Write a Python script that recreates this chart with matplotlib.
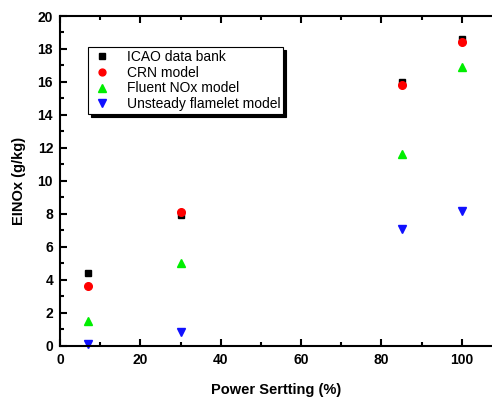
import matplotlib
matplotlib.use("Agg")
import matplotlib.pyplot as plt
from matplotlib.ticker import MultipleLocator

plt.rcParams['font.family'] = ['Liberation Sans', 'DejaVu Sans']

power = [7, 30, 85, 100]
icao = [4.4, 7.9, 16.0, 18.6]
crn = [3.6, 8.1, 15.8, 18.4]
fluent = [1.5, 5.0, 11.6, 16.9]
unsteady = [0.1, 0.85, 7.1, 8.2]
xticks = [0, 20, 40, 60, 80, 100]
yticks = [0, 2, 4, 6, 8, 10, 12, 14, 16, 18, 20]

fig = plt.figure(figsize=(4.92, 3.98), dpi=100)
ax = fig.add_axes([60/492, 1-345.7/398, 1-60/492, (345.7-16)/398])

ms = 5
ax.plot(power, icao, 's', color='black', ms=ms, label='ICAO data bank', clip_on=False)
ax.plot(power, crn, 'o', color='red', ms=ms+0.5, label='CRN model', clip_on=False)
ax.plot(power, fluent, '^', color='#00ee00', ms=ms+1, label='Fluent NOx model', clip_on=False)
ax.plot(power, unsteady, 'v', color='#1010ff', ms=ms+1, label='Unsteady flamelet model', clip_on=False)

ax.set_xlim(0, 107.5)
ax.set_ylim(0, 20)
ax.set_xticks(xticks)
ax.set_yticks(yticks)
ax.xaxis.set_minor_locator(MultipleLocator(10))
ax.yaxis.set_minor_locator(MultipleLocator(1))
ax.tick_params(which='both', direction='in', top=True, right=False, width=1.5)
ax.tick_params(which='major', length=5, labelsize=10, pad=5)
ax.tick_params(which='minor', length=3)
for lbl in ax.get_xticklabels() + ax.get_yticklabels():
    lbl.set_fontweight('bold')
ax.spines['right'].set_visible(False)
for s in ['left', 'bottom', 'top']:
    ax.spines[s].set_linewidth(1.5)

ax.set_xlabel('Power Sertting (%)', fontsize=10.5, fontweight='bold', labelpad=12)
ax.set_ylabel('EINOx (g/kg)', fontsize=10.5, fontweight='bold', labelpad=8)

leg = ax.legend(loc='upper left', bbox_to_anchor=(0.065, 0.905), fontsize=10,
                frameon=True, fancybox=False, edgecolor='black',
                shadow={'color': 'black', 'alpha': 1.0},
                handletextpad=1.0, borderpad=0.2, labelspacing=0.12,
                handlelength=1.6, borderaxespad=0, markerscale=0.9)
leg.get_frame().set_linewidth(0.8)

fig.savefig('out.png', dpi=100)
